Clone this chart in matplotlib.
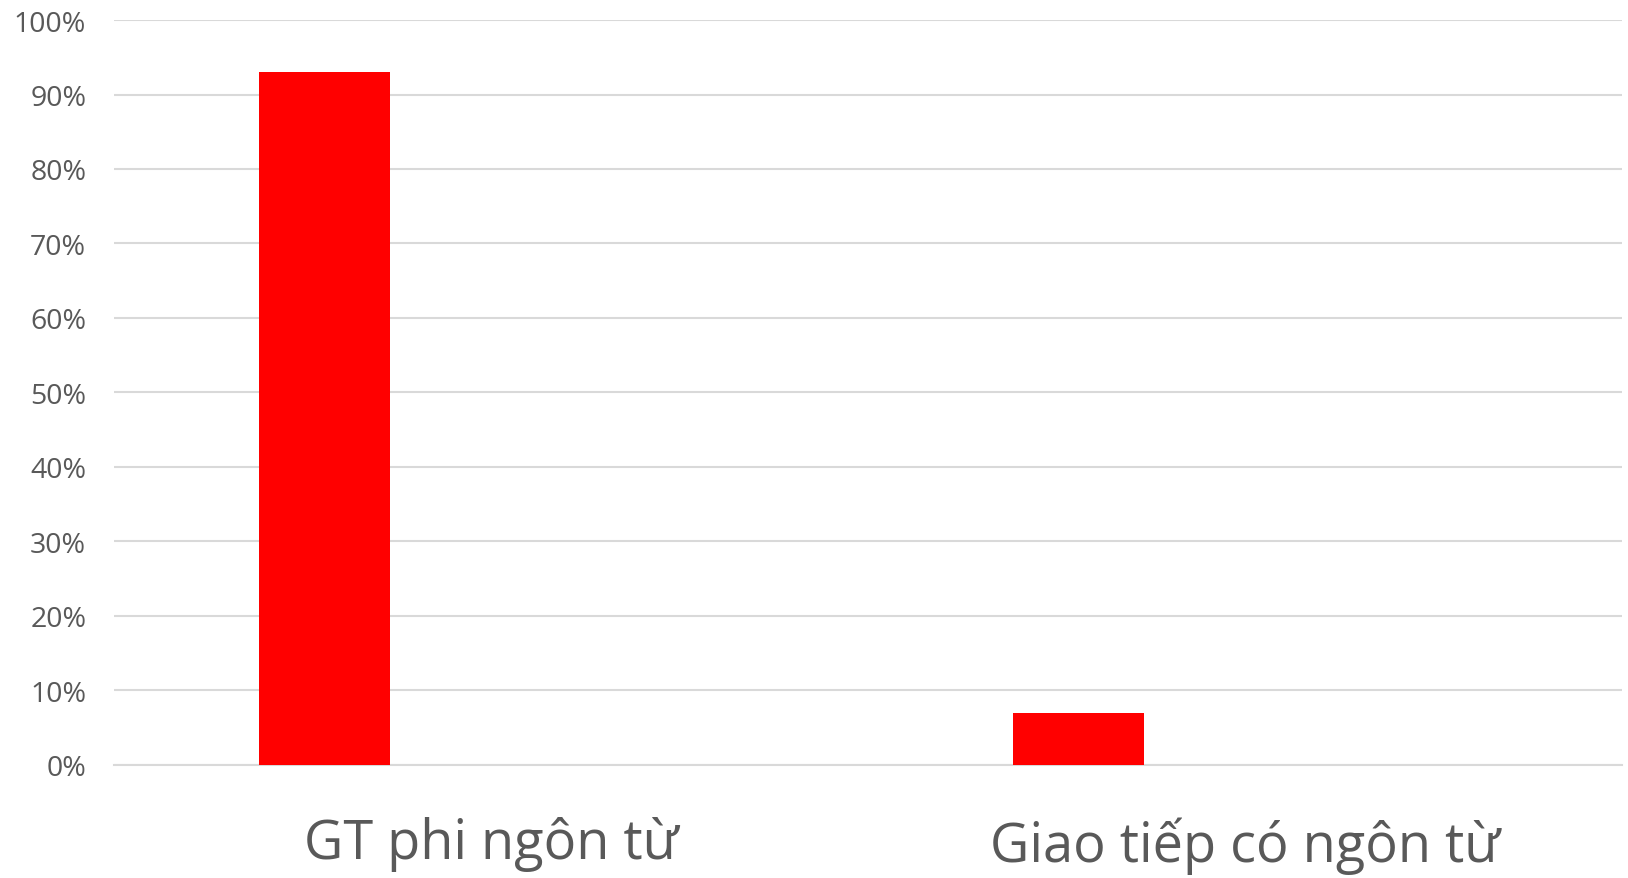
import matplotlib
matplotlib.use("Agg")
import matplotlib.pyplot as plt
from matplotlib.ticker import PercentFormatter

categories = ["GT phi ngôn từ", "Giao tiếp có ngôn từ"]
values = [93, 7]
y_ticks = [0, 10, 20, 30, 40, 50, 60, 70, 80, 90, 100]

plt.rcParams["font.family"] = ["Open Sans", "DejaVu Sans"]

fig = plt.figure(figsize=(16.28, 8.79), dpi=100)
ax = fig.add_axes([0.070, 0.1286, 0.9263, 0.8475])

x = list(range(len(categories)))
bar_offset = -0.221
bar_width = 0.1744
ax.bar([i + bar_offset for i in x], values, width=bar_width, color="#ff0000", zorder=3)

ax.set_xlim(-0.5, len(categories) - 0.5)
ax.set_ylim(0, 100)
ax.set_yticks(y_ticks)
ax.yaxis.set_major_formatter(PercentFormatter(decimals=0))
ax.set_xticks(x)
ax.set_xticklabels(categories)

ax.grid(axis="y", color="#d9d9d9", linewidth=1.5, zorder=0)
ax.grid(axis="x", visible=False)
for side in ["top", "right", "left"]:
    ax.spines[side].set_visible(False)
ax.spines["bottom"].set_color("#d9d9d9")
ax.spines["bottom"].set_linewidth(1.5)

ax.tick_params(axis="y", length=0, pad=20, labelsize=20.5, labelcolor="#595959")
ax.tick_params(axis="x", length=0, pad=37, labelsize=39, labelcolor="#595959")

fig.savefig("out.png", dpi=100)
